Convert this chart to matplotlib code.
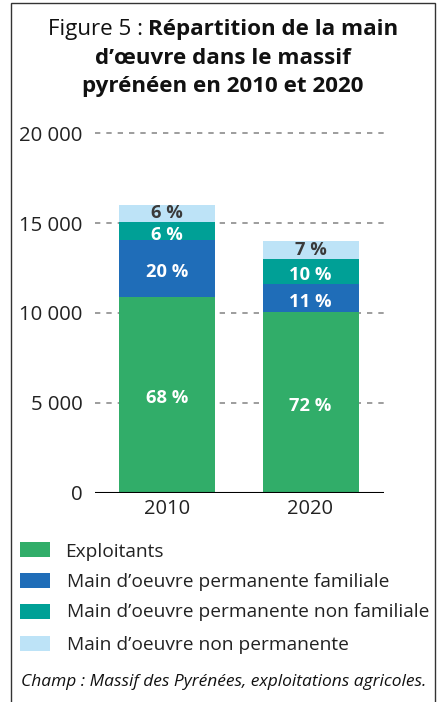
import matplotlib
matplotlib.use("Agg")
import matplotlib.pyplot as plt
from matplotlib.patches import Rectangle
import numpy as np

years = ["2010", "2020"]
series_names = [
    "Exploitants",
    "Main d\u2019oeuvre permanente familiale",
    "Main d\u2019oeuvre permanente non familiale",
    "Main d\u2019oeuvre non permanente",
]
exploitants = [10900, 10050]
perm_familiale = [3140, 1550]
perm_non_familiale = [1030, 1400]
non_permanente = [930, 1000]
pct_labels = [["68 %", "72 %"], ["20 %", "11 %"], ["6 %", "10 %"], ["6 %", "7 %"]]
yticks = [0, 5000, 10000, 15000, 20000]
ytick_labels = ["0", "5 000", "10 000", "15 000", "20 000"]

colors = ["#31ad69", "#1f6db8", "#00a096", "#bde3f7"]
label_colors = ["white", "white", "white", "#3a3a3a"]

FONT = "Open Sans"
plt.rcParams["font.family"] = [FONT, "DejaVu Sans"]

W, H = 443, 702
fig = plt.figure(figsize=(W / 100, H / 100), dpi=100)
fig.canvas.draw()
r = fig.canvas.get_renderer()


def fit(t, target_px):
    w = t.get_window_extent(r).width
    t.set_fontsize(t.get_fontsize() * target_px / w)
    return t


def fitted_size(s, target_px, **kw):
    t = fig.text(0, 0, s, fontsize=12, **kw)
    w = t.get_window_extent(r).width
    t.remove()
    return 12 * target_px / w


ytick_size = fitted_size("20 000", 64)
xtick_size = fitted_size("2010", 46)
bar_size = fitted_size("20 %", 42, fontweight="bold")

# outer frame
fig.patches.append(Rectangle((11 / W, -0.01), (435 - 11) / W, 1 - 3 / H + 0.01,
                             transform=fig.transFigure, fill=False,
                             edgecolor="#333333", linewidth=1.0))

ax_left, ax_right = 95, 384
y0_px = 492.5
px_per_unit = 359.2 / 20000
ymax = 20500
ax_top = y0_px - ymax * px_per_unit
ax = fig.add_axes([ax_left / W, 1 - y0_px / H, (ax_right - ax_left) / W, (y0_px - ax_top) / H])

x = np.arange(len(years))
xl = (95 - 167) / 143.5
xr = (384 - 167) / 143.5
bw = 96 / 143.5

data = [exploitants, perm_familiale, perm_non_familiale, non_permanente]
bottom = np.zeros(len(years))
for i, vals in enumerate(data):
    vals = np.array(vals, dtype=float)
    ax.bar(x, vals, bw, bottom=bottom, color=colors[i], zorder=3, linewidth=0)
    for j in range(len(years)):
        yc = bottom[j] + vals[j] / 2
        off = -2.5 if i < 3 else 0
        ax.annotate(pct_labels[i][j], (x[j], yc), xytext=(0, off), textcoords="offset points",
                    ha="center", va="center", color=label_colors[i],
                    fontsize=bar_size, fontweight="bold", zorder=5)
    bottom += vals

ax.set_xlim(xl, xr)
ax.set_ylim(0, ymax)
ax.set_yticks(yticks)
ax.set_yticklabels(ytick_labels, fontsize=ytick_size)
ax.set_xticks(x)
ax.set_xticklabels(years, fontsize=xtick_size)
for y in yticks[1:]:
    ax.axhline(y, color="#8c8c8c", linewidth=1.2, linestyle=(0, (3.2, 3.6)), zorder=1)
ax.axhline(0, color="black", linewidth=1.5, zorder=4)
for s in ax.spines.values():
    s.set_visible(False)
ax.tick_params(axis="both", length=0, colors="#222222")
ax.tick_params(axis="y", pad=9)
ax.tick_params(axis="x", pad=5)
ax.patch.set_alpha(0)

# title
cx = 223
t1a = fig.text(0, 1 - 35 / H, "Figure 5 : ", fontsize=15, color="#111111", va="baseline")
t1b = fig.text(0, 1 - 35 / H, "R\u00e9partition de la main", fontsize=15,
               fontweight="bold", color="#111111", va="baseline")
wa = t1a.get_window_extent(r).width
wb = t1b.get_window_extent(r).width
scale = 351 / (wa + wb)
t1a.set_fontsize(15 * scale)
t1b.set_fontsize(15 * scale)
wa = t1a.get_window_extent(r).width
wb = t1b.get_window_extent(r).width
start = cx - (wa + wb) / 2
t1a.set_x(start / W)
t1b.set_x((start + wa) / W)
t2 = fig.text(cx / W, 1 - 64 / H, "d\u2019\u0153uvre dans le massif", fontsize=15 * scale,
              fontweight="bold", ha="center", va="baseline", color="#111111")
t3 = fig.text(cx / W, 1 - 92 / H, "pyr\u00e9n\u00e9en en 2010 et 2020", fontsize=15 * scale,
              fontweight="bold", ha="center", va="baseline", color="#111111")

# legend
patch_tops = [542, 573, 604, 636]
text_base = [557, 587, 617, 650]
text_x = [65, 67, 67, 67]
leg_texts = []
for i, name in enumerate(series_names):
    fig.patches.append(Rectangle((20 / W, 1 - (patch_tops[i] + 15) / H), 30 / W, 15 / H,
                                 transform=fig.transFigure, facecolor=colors[i], edgecolor="none"))
    leg_texts.append(fig.text(text_x[i] / W, 1 - text_base[i] / H, name, fontsize=11.5,
                              color="#222222", va="baseline"))
fit(leg_texts[2], 363)
for t in leg_texts:
    t.set_fontsize(leg_texts[2].get_fontsize())

foot = fig.text(21 / W, 1 - 686 / H, "Champ : Massif des Pyr\u00e9n\u00e9es, exploitations agricoles.",
                fontsize=10.5, style="italic", color="#111111", va="baseline")
fit(foot, 407)

fig.savefig("out.png", dpi=100)
